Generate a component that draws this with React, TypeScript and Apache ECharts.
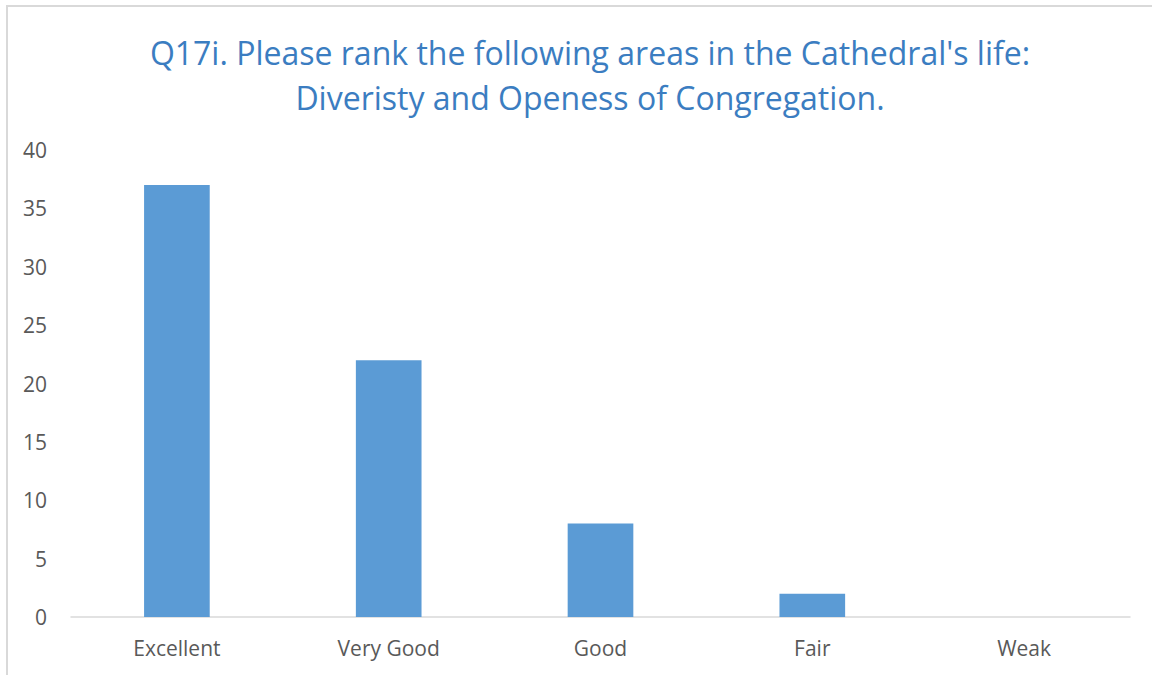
import React, { useEffect, useRef } from "react";
import * as echarts from "echarts";

const categories = ["Excellent", "Very Good", "Good", "Fair", "Weak"];
const values = [37, 22, 8, 2, 0];
const titleLines = [
  "Q17i. Please rank the following areas in the Cathedral's life:",
  "Diveristy and Openess of Congregation.",
];

export default function App() {
  const ref = useRef<HTMLDivElement>(null);
  useEffect(() => {
    if (!ref.current) return;
    const chart = echarts.init(ref.current, null, { renderer: "svg" });
    chart.setOption({
      animation: false,
      backgroundColor: "#ffffff",
      title: {
        text: titleLines.join("\n"),
        left: 585,
        top: 25,
        textAlign: "center",
        textStyle: {
          fontFamily: "Open Sans",
          fontWeight: "normal",
          fontSize: 32,
          lineHeight: 45,
          color: "#3B7DC1",
        },
      },
      graphic: [
        {
          type: "rect",
          shape: { x: 7, y: 6, width: 1300, height: 800 },
          style: { fill: "none", stroke: "#d9d9d9", lineWidth: 2 },
          silent: true,
        },
      ],
      grid: { left: 71, right: 22, top: 150, bottom: 58 },
      xAxis: {
        type: "category",
        data: categories,
        axisLine: { show: true, lineStyle: { color: "#d9d9d9", width: 1.5 } },
        axisTick: { show: false },
        axisLabel: {
          color: "#595959",
          fontFamily: "Open Sans",
          fontSize: 21,
          margin: 20,
        },
      },
      yAxis: {
        type: "value",
        min: 0,
        max: 40,
        interval: 5,
        axisLine: { show: false },
        axisTick: { show: false },
        splitLine: { show: false },
        axisLabel: {
          color: "#595959",
          fontFamily: "Open Sans",
          fontSize: 21,
          margin: 24,
        },
      },
      series: [
        {
          type: "bar",
          data: values,
          barWidth: "31%",
          itemStyle: { color: "#5B9BD5" },
        },
      ],
    });
    return () => chart.dispose();
  }, []);
  return (
    <div
      ref={ref}
      style={{ position: "fixed", left: 0, top: 0, width: 1152, height: 675 }}
    />
  );
}
